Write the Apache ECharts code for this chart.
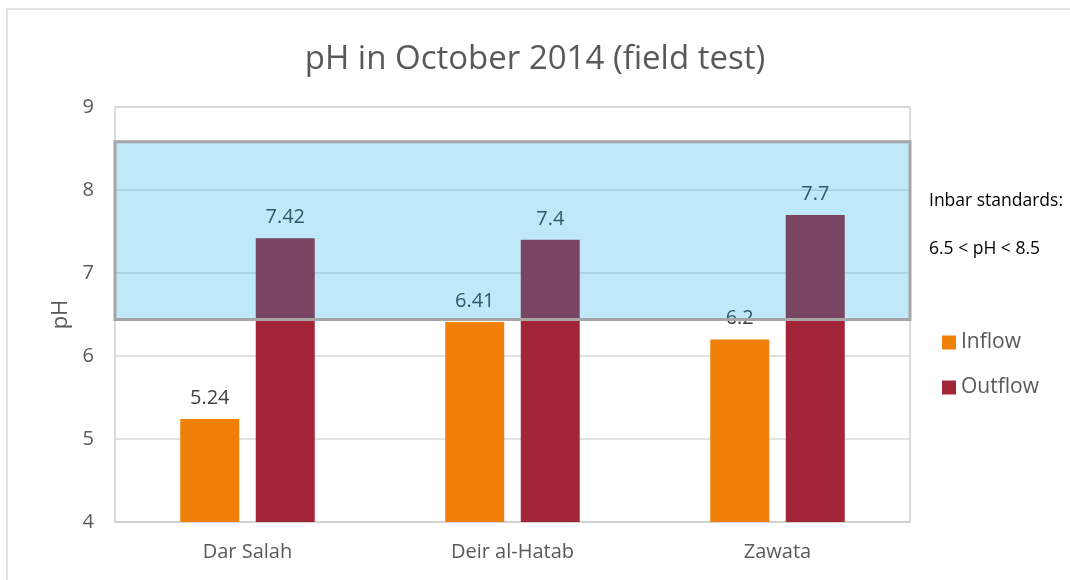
<!DOCTYPE html>
<html>
<head>
<meta charset="utf-8">
<script src="https://cdn.jsdelivr.net/npm/echarts@6/dist/echarts.min.js"></script>
<style>
  html, body { margin: 0; padding: 0; background: #fff; }
  #main { width: 1070px; height: 580px; }
</style>
</head>
<body>
<div id="main"></div>
<script>
// chart data
var sites = ['Dar Salah', 'Deir al-Hatab', 'Zawata'];
var inflow = [5.24, 6.41, 6.2];
var outflow = [7.42, 7.4, 7.7];
// band of the standard as drawn in the picture
var bandLow = 6.44;
var bandHigh = 8.58;
var yTicks = [4, 5, 6, 7, 8, 9];

var myChart = echarts.init(document.getElementById('main'));
var font = '"Open Sans", "Noto Sans", sans-serif';

var option = {
  animation: false,
  textStyle: { fontFamily: font },
  title: {
    text: 'pH in October 2014 (field test)',
    left: 530,
    top: 38,
    textAlign: 'center',
    textStyle: { fontSize: 33, fontWeight: 'normal', color: '#595959', fontFamily: font }
  },
  grid: {
    left: 115, right: 160, top: 107, bottom: 58,
    show: true, borderColor: '#d0d0d0', borderWidth: 1.5, backgroundColor: 'transparent'
  },
  legend: {
    data: ['Inflow', 'Outflow'],
    orient: 'vertical',
    left: 937,
    top: 327,
    itemWidth: 14,
    itemHeight: 14,
    itemGap: 24,
    icon: 'rect',
    textStyle: { fontSize: 21, color: '#595959', fontFamily: font }
  },
  xAxis: {
    type: 'category',
    data: sites,
    axisLine: { show: true, lineStyle: { color: '#d0d0d0', width: 1.5 } },
    axisTick: { show: false },
    axisLabel: { fontSize: 20, color: '#595959', margin: 20 }
  },
  yAxis: {
    type: 'value',
    min: yTicks[0],
    max: yTicks[yTicks.length - 1],
    interval: 1,
    name: 'pH',
    nameLocation: 'middle',
    nameGap: 42,
    nameTextStyle: { fontSize: 22, color: '#595959' },
    axisLine: { show: false },
    axisTick: { show: false },
    axisLabel: { fontSize: 20, color: '#595959', margin: 21 },
    splitLine: { lineStyle: { color: '#d9d9d9', width: 1.5 } }
  },
  series: [
    {
      name: 'Inflow',
      type: 'bar',
      data: inflow,
      barWidth: 59,
      barGap: '28%',
      itemStyle: { color: '#F0800A' },
      label: { show: true, position: 'top', distance: 11, fontSize: 20, color: '#404040' }
    },
    {
      name: 'Outflow',
      type: 'bar',
      data: outflow,
      barWidth: 59,
      itemStyle: { color: '#A32638' },
      label: { show: true, position: 'top', distance: 11, fontSize: 20, color: '#404040' }
    },
    {
      name: 'band',
      type: 'line',
      z: 10,
      data: [null, null, null],
      showSymbol: false,
      silent: true,
      markArea: {
        silent: true,
        z: 10,
        itemStyle: {
          color: 'rgba(0,163,227,0.25)',
          borderColor: '#a6a6a6',
          borderWidth: 3
        },
        data: [[{ yAxis: bandLow }, { yAxis: bandHigh }]]
      }
    }
  ],
  graphic: [
    {
      type: 'rect',
      shape: { x: 7, y: 9, width: 1100, height: 600 },
      style: { fill: 'none', stroke: '#d9d9d9', lineWidth: 1.5 },
      silent: true
    },
    {
      type: 'text',
      left: 929,
      top: 192,
      style: { text: 'Inbar standards:', fontSize: 17.5, fill: '#000', fontFamily: font }
    },
    {
      type: 'text',
      left: 929,
      top: 240,
      style: { text: '6.5 < pH < 8.5', fontSize: 17.5, fill: '#000', fontFamily: font }
    }
  ]
};

myChart.setOption(option);
</script>
</body>
</html>
